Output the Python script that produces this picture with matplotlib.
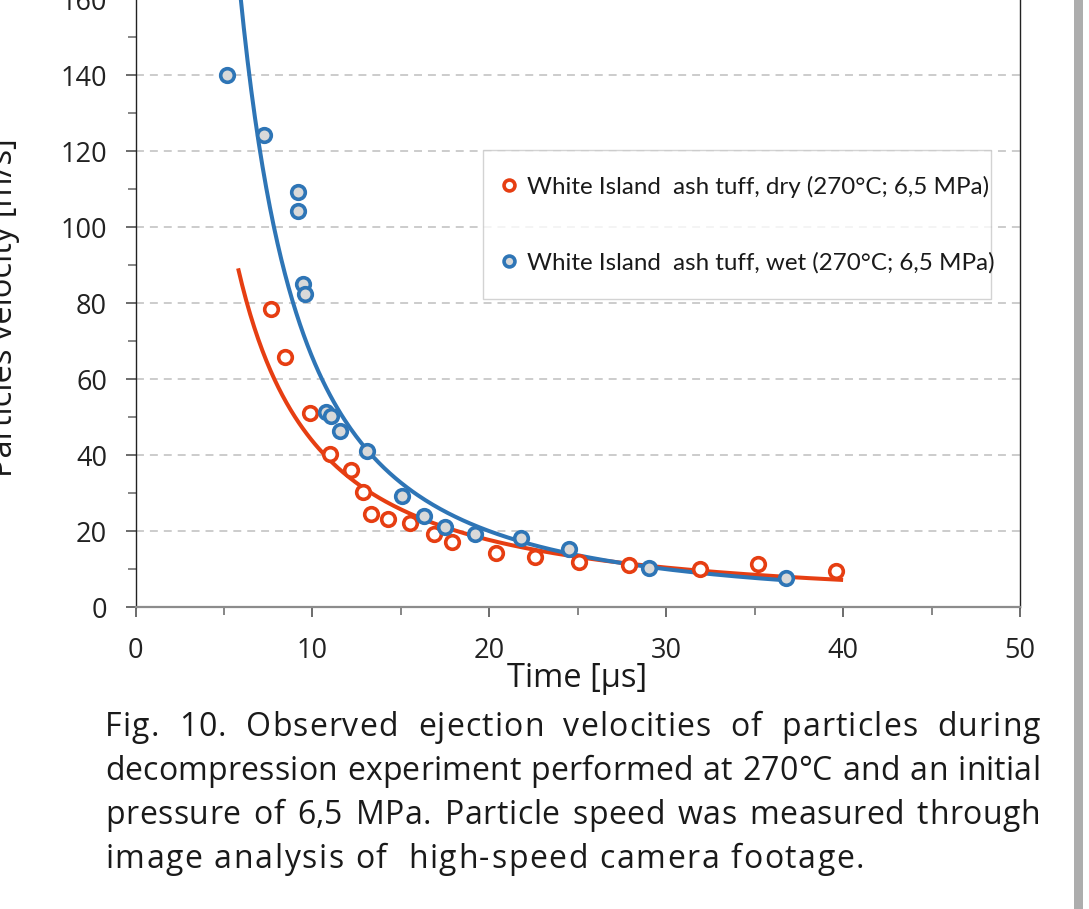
import numpy as np
import matplotlib
matplotlib.use("Agg")
import matplotlib.pyplot as plt
from matplotlib.patches import Rectangle
from matplotlib.ticker import MultipleLocator
from matplotlib.font_manager import FontProperties

plt.rcParams['font.family'] = ['Open Sans', 'DejaVu Sans']

# dry series (red, open circles)
dry_t = [7.66, 8.45, 9.86, 11.0, 12.2, 12.85, 13.3, 14.3, 15.5, 16.9, 17.9,
         20.4, 22.6, 25.05, 27.9, 31.9, 35.2, 39.6]
dry_v = [78.4, 65.8, 51.0, 40.3, 36.0, 30.3, 24.5, 23.2, 22.1, 19.2, 17.1,
         14.2, 13.2, 11.8, 11.0, 10.0, 11.3, 9.5]

# wet series (blue, gray-filled circles)
wet_t = [5.17, 7.26, 9.18, 9.18, 9.46, 9.58, 10.76, 11.05, 11.55, 13.08,
         15.05, 16.3, 17.5, 19.2, 21.8, 24.5, 29.0, 36.8]
wet_v = [140.0, 124.2, 109.2, 104.2, 85.0, 82.4, 51.3, 50.3, 46.3, 41.0,
         29.2, 24.0, 21.0, 19.2, 18.1, 15.2, 10.3, 7.6]

dry_label = "White Island  ash tuff, dry (270°C; 6,5 MPa)"
wet_label = "White Island  ash tuff, wet (270°C; 6,5 MPa)"

# x-span of the power trendlines
dry_fit_span = (5.8, 40.0)
wet_fit_span = (5.17, 36.8)

caption_lines = [
    "Fig. 10. Observed ejection velocities of particles during",
    "decompression experiment performed at 270°C and an initial",
    "pressure of 6,5 MPa. Particle speed was measured through",
    "image analysis of  high-speed camera footage.",
]

RED = '#E63E12'
BLUE = '#2E75B6'


def power_fit(t, v, span):
    # Excel-style power trendline: log-log least squares
    b, loga = np.polyfit(np.log(t), np.log(v), 1)
    xs = np.linspace(span[0], span[1], 300)
    return xs, np.exp(loga) * xs ** b


W, H = 1089, 909
fig = plt.figure(figsize=(W / 100, H / 100), dpi=100)
ax = fig.add_axes([135.5 / W, 302 / H, 884.5 / W, 608 / H])

ax.set_xlim(0, 50)
ax.set_ylim(0, 160)
ax.xaxis.set_major_locator(MultipleLocator(10))
ax.xaxis.set_minor_locator(MultipleLocator(5))
ax.yaxis.set_major_locator(MultipleLocator(20))
ax.yaxis.set_minor_locator(MultipleLocator(10))

ax.grid(axis='y', which='major', color='#BFBFBF', linewidth=1.1,
        linestyle=(0, (5.2, 3.9)))
ax.set_axisbelow(True)

for s in ['left', 'right']:
    ax.spines[s].set_color('#222222')
    ax.spines[s].set_linewidth(1.0)
ax.spines['bottom'].set_color('#8C8C8C')
ax.spines['bottom'].set_linewidth(1.6)
ax.spines['top'].set_visible(False)

ax.tick_params(axis='both', which='major', direction='out', length=7.5,
               width=1.1, color='#444444', labelsize=19.5, labelcolor='#222222')
ax.tick_params(axis='both', which='minor', direction='out', length=5.5,
               width=1.1, color='#666666')
ax.tick_params(axis='y', which='major', pad=13)
ax.tick_params(axis='x', which='major', pad=14)

xs, ys = power_fit(dry_t, dry_v, dry_fit_span)
ax.plot(xs, ys, color=RED, linewidth=2.9, solid_capstyle='butt', zorder=2)
xs, ys = power_fit(wet_t, wet_v, wet_fit_span)
ax.plot(xs, ys, color=BLUE, linewidth=2.9, solid_capstyle='butt', zorder=2)

h_dry, = ax.plot(dry_t, dry_v, 'o', ms=9.8, mfc='white', mec=RED, mew=2.6,
                 zorder=3, label=dry_label)
h_wet, = ax.plot(wet_t, wet_v, 'o', ms=9.8, mfc='#D9D9D9', mec=BLUE, mew=2.6,
                 zorder=3, label=wet_label)

leg = ax.legend(handles=[h_dry, h_wet], loc='upper left', mode='expand',
                bbox_to_anchor=(483 / W, (H - 298) / H, 508 / W, 148 / H),
                bbox_transform=fig.transFigure,
                prop={'family': ['Lato', 'DejaVu Sans'], 'size': 17.4},
                frameon=True, fancybox=False, borderpad=1.07,
                labelspacing=2.22, handletextpad=0.75, handlelength=0.0,
                markerscale=0.8, borderaxespad=0)
leg.get_frame().set_edgecolor('#C8C8C8')
leg.get_frame().set_linewidth(1.0)
for t in leg.get_texts():
    t.set_color('#1A1A1A')

fig.text(577 / W, (H - 687) / H, "Time [µs]", ha='center', va='baseline',
         fontsize=23.5, color='#1A1A1A')
fig.text(20 / W, (H - 308) / H, "Particles velocity [m/s]", rotation=90,
         ha='right', va='center', fontsize=23.5, color='#1A1A1A')

# page edge strip on the right
fig.patches.append(Rectangle((1074 / W, 0), 9 / W, 1, transform=fig.transFigure,
                             facecolor='#ADADAD', edgecolor='none'))

# caption: justified, with a little letter spacing, char by char
fig.canvas.draw()
renderer = fig.canvas.get_renderer()
cap_prop = FontProperties(family=['Open Sans', 'DejaVu Sans'], size=23)


def text_w(s):
    return renderer.get_text_width_height_descent(s, cap_prop, ismath=False)[0]


base_w = text_w('xx')
adv = {c: text_w('x' + c + 'x') - base_w for c in set(''.join(caption_lines))}

left, right = 105, 1040
baselines = [736, 780, 824, 868]
for i, line in enumerate(caption_lines):
    y = (H - baselines[i]) / H
    natural = sum(adv[c] for c in line)
    n_sp = line.count(' ')
    if i == len(caption_lines) - 1:
        track, extra_sp = 1.6, 0.0
    else:
        extra = (right - left) - natural
        track = 0.5 * extra / (len(line) - 1)
        extra_sp = 0.5 * extra / n_sp
    x = left
    for c in line:
        if c != ' ':
            fig.text(x / W, y, c, fontproperties=cap_prop, color='#1A1A1A',
                     va='baseline', ha='left')
        x += adv[c] + track + (extra_sp if c == ' ' else 0)

fig.savefig('out.png', dpi=100)
